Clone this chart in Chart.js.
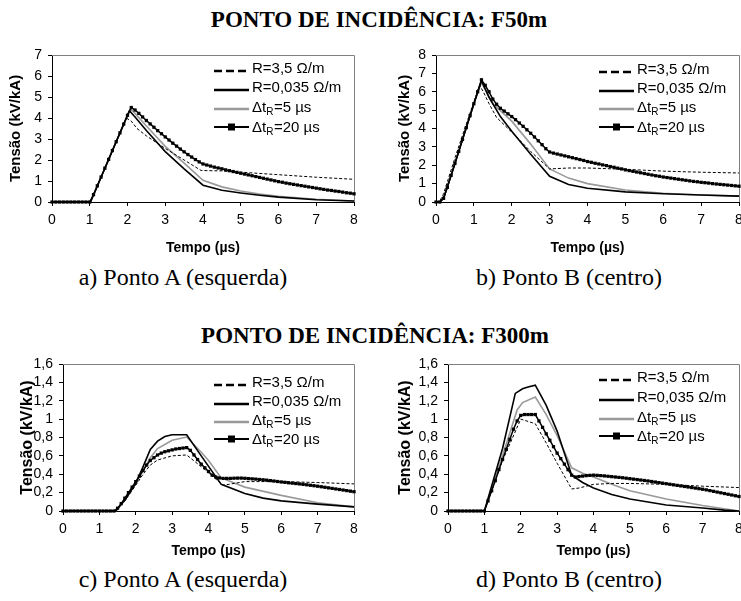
<!DOCTYPE html>
<html>
<head>
<meta charset="utf-8">
<script src="https://cdn.jsdelivr.net/npm/chart.js@4"></script>
<style>
  html, body { margin: 0; padding: 0; background: #fff; }
  body { width: 741px; height: 601px; position: relative; overflow: hidden; }
  canvas { position: absolute; }
  .t { position: absolute; font-family: "Liberation Serif", "Times New Roman", serif; line-height: 1;
       white-space: nowrap; color: #000; transform: translateX(-50%); }
  .h { font-weight: bold; font-size: 23px; }
  .c { font-size: 24px; }
</style>
</head>
<body>
<div class="t h" style="left:379px; top:8px;">PONTO DE INCIDÊNCIA: F50m</div>
<div class="t c" style="left:183px; top:265px;">a) Ponto A (esquerda)</div>
<div class="t c" style="left:569px; top:265px;">b) Ponto B (centro)</div>
<div class="t h" style="left:375px; top:324px;">PONTO DE INCIDÊNCIA: F300m</div>
<div class="t c" style="left:183px; top:567px;">c) Ponto A (esquerda)</div>
<div class="t c" style="left:569px; top:567px;">d) Ponto B (centro)</div>

<canvas id="pa" width="370" height="225" style="left:0px; top:40px;"></canvas>
<canvas id="pb" width="390" height="225" style="left:370px; top:40px;"></canvas>
<canvas id="pc" width="370" height="225" style="left:0px; top:349px;"></canvas>
<canvas id="pd" width="390" height="225" style="left:370px; top:349px;"></canvas>

<script>
// ---- series names (legend text, subscript in the middle part) ----
const seriesLabels = [
  ['R=3,5 Ω/m'],
  ['R=0,035 Ω/m'],
  ['Δt', 'R', '=5 µs'],
  ['Δt', 'R', '=20 µs']
];
const xTitle = 'Tempo (µs)';
const yTitle = 'Tensão (kV/kA)';
const xTickLabels = ['0', '1', '2', '3', '4', '5', '6', '7', '8'];
const yTickLabelsA = ['0', '1', '2', '3', '4', '5', '6', '7'];
const yTickLabelsB = ['0', '1', '2', '3', '4', '5', '6', '7', '8'];
const yTickLabelsCD = ['0', '0,2', '0,4', '0,6', '0,8', '1', '1,2', '1,4', '1,6'];

// time base of the ΔtR=20 µs curves (µs)
const tempo20 = [0,0.1,0.2,0.3,0.4,0.5,0.6,0.7,0.8,0.9,1,1.1,1.2,1.3,1.4,1.5,1.6,1.7,1.8,1.9,
  2,2.1,2.2,2.3,2.4,2.5,2.6,2.7,2.8,2.9,3,3.1,3.2,3.3,3.4,3.5,3.6,3.7,3.8,3.9,
  4,4.1,4.2,4.3,4.4,4.5,4.6,4.7,4.8,4.9,5,5.1,5.2,5.3,5.4,5.5,5.6,5.7,5.8,5.9,
  6,6.1,6.2,6.3,6.4,6.5,6.6,6.7,6.8,6.9,7,7.1,7.2,7.3,7.4,7.5,7.6,7.7,7.8,7.9,8];

// ---- a) F50m, Ponto A ----
const aTempoR35 = [0,1.02,1.97,2.1,2.25,2.5,3,3.5,3.95,4.5,5,6,7,8];
const aTensaoR35 = [0,0,4.0,3.85,3.5,3.15,2.55,2.0,1.5,1.48,1.42,1.3,1.18,1.08];
const aTempoR0035 = [0,1.02,2,2.05,2.2,2.5,3,3.5,4,4.5,5,5.5,6,7,8];
const aTensaoR0035 = [0,0,4.13,4.35,4.05,3.4,2.4,1.58,0.8,0.56,0.43,0.32,0.23,0.11,0.05];
const aTempo5 = [0,1.02,2,2.08,2.2,2.5,3,3.5,4,4.5,5,5.5,6,7,8];
const aTensao5 = [0,0,4.13,4.42,4.22,3.62,2.65,1.85,1.03,0.72,0.52,0.38,0.27,0.13,0.05];
const aTensao20 = [0,0,0,0,0,0,0,0,0,0,0,
  0.35,0.77,1.19,1.61,2.03,2.45,2.87,3.29,3.71,4.13,4.5,
  4.38,4.22,4.05,3.88,3.72,3.56,3.4,3.25,3.1,2.95,2.8,2.66,2.52,2.39,2.26,2.14,2.02,1.91,1.81,
  1.76,1.71,1.66,1.62,1.58,1.53,1.49,1.45,1.41,1.37,
  1.33,1.29,1.25,1.21,1.17,1.13,1.09,1.05,1.01,0.97,
  0.94,0.9,0.87,0.84,0.81,0.78,0.75,0.72,0.69,0.66,
  0.63,0.6,0.57,0.55,0.52,0.5,0.47,0.44,0.42,0.39];

// ---- b) F50m, Ponto B ----
const bTempoR35 = [0,0.1,0.2,0.5,0.8,1.0,1.15,1.25,1.4,1.6,1.9,2.1,2.5,3.0,3.5,4.0,5.0,6.0,7.0,8.0];
const bTensaoR35 = [0,0.05,0.45,2.4,4.25,5.45,6.35,6.0,5.35,4.6,4.0,3.6,2.75,1.8,1.85,1.85,1.78,1.68,1.62,1.58];
const bTempoR0035 = [0,0.1,0.2,0.5,0.8,1.0,1.2,1.4,1.7,2.0,2.5,3.0,3.5,4.0,5.0,6.0,7.0,8.0];
const bTensaoR0035 = [0,0,0.2,2.1,4.05,5.35,6.6,5.7,4.65,3.85,2.6,1.4,0.95,0.75,0.55,0.45,0.38,0.32];
const bTempo5 = [0,0.1,0.2,0.5,0.8,1.0,1.2,1.5,2.0,2.5,3.0,3.5,4.0,5.0,6.0,7.0,8.0];
const bTensao5 = [0,0,0.2,2.1,4.05,5.35,6.5,5.35,4.4,3.15,1.8,1.3,1.0,0.65,0.48,0.38,0.32];
const bTensao20 = [0,0,0.2,0.8,1.45,2.1,2.75,3.4,4.05,4.7,5.35,6.0,6.65,
  6.35,6.0,5.6,5.32,5.1,4.95,4.8,4.65,4.48,4.3,4.12,3.93,3.74,3.54,3.33,3.12,2.9,2.72,
  2.66,2.61,2.56,2.51,2.46,2.41,2.36,2.31,2.26,2.2,
  2.16,2.11,2.07,2.02,1.98,1.93,1.89,1.84,1.8,1.75,
  1.71,1.67,1.63,1.59,1.55,1.51,1.47,1.43,1.4,1.36,
  1.33,1.3,1.27,1.24,1.21,1.18,1.15,1.12,1.1,1.07,
  1.05,1.03,1.0,0.98,0.96,0.94,0.92,0.9,0.88,0.86];

// ---- c) F300m, Ponto A ----
const cTempoR35 = [0,1.45,1.7,2.0,2.2,2.4,2.6,3.0,3.4,3.9,4.4,4.7,5.0,6.0,7.0,8.0];
const cTensaoR35 = [0,0,0.11,0.28,0.4,0.5,0.555,0.6,0.61,0.45,0.28,0.3,0.32,0.32,0.31,0.295];
const cTempoR0035 = [0,1.45,1.7,2.0,2.2,2.4,2.6,2.8,3.0,3.4,3.8,4.35,5.0,5.5,6.0,7.0,8.0];
const cTensaoR0035 = [0,0,0.12,0.3,0.48,0.67,0.76,0.81,0.83,0.83,0.6,0.29,0.19,0.14,0.11,0.075,0.045];
const cTempo5 = [0,1.45,1.7,2.0,2.2,2.4,2.6,3.0,3.4,3.8,4.0,4.35,5.0,6.0,7.0,8.0];
const cTensao5 = [0,0,0.12,0.3,0.44,0.58,0.68,0.77,0.805,0.64,0.55,0.36,0.26,0.17,0.09,0.045];
const cTensao20 = [0,0,0,0,0,0,0,0,0,0,0,0,0,0,0,
  0.03,0.08,0.14,0.2,0.26,0.32,0.38,0.44,0.5,0.55,0.58,0.61,0.63,0.645,0.655,0.665,0.675,0.68,0.685,0.69,
  0.66,0.61,0.56,0.51,0.47,0.43,0.39,0.37,0.36,0.355,
  0.355,0.355,0.357,0.358,0.358,0.356,
  0.353,0.35,0.347,0.343,0.34,0.336,0.331,0.326,0.321,0.316,
  0.312,0.307,0.303,0.299,0.295,0.29,0.285,0.28,0.275,0.27,
  0.264,0.258,0.252,0.246,0.24,0.234,0.228,0.222,0.216,0.21];

// ---- d) F300m, Ponto B ----
const dTempoR35 = [0,1.0,1.5,2.0,2.4,2.7,3.0,3.4,3.6,4.0,4.5,5.0,6.0,7.0,8.0];
const dTensaoR35 = [0,0,0.55,1.0,0.95,0.74,0.52,0.24,0.25,0.29,0.3,0.3,0.29,0.27,0.255];
const dTempoR0035 = [0,1.0,1.5,1.85,2.05,2.2,2.4,2.7,3.0,3.4,3.7,4.0,4.5,5.0,6.0,7.0,7.6,8.0];
const dTensaoR0035 = [0,0,0.68,1.28,1.33,1.35,1.37,1.15,0.87,0.39,0.31,0.25,0.18,0.13,0.066,0.033,0.01,0];
const dTempo5 = [0,1.0,1.5,1.9,2.05,2.4,2.7,3.0,3.4,3.7,4.0,4.5,5.0,6.0,7.0,8.0];
const dTensao5 = [0,0,0.6,1.1,1.18,1.24,1.05,0.82,0.47,0.41,0.37,0.29,0.22,0.13,0.06,0.0];
const dTensao20 = [0,0,0,0,0,0,0,0,0,0,0,
  0.11,0.22,0.33,0.45,0.56,0.67,0.78,0.89,0.98,1.04,1.05,1.05,1.05,1.05,
  0.98,0.91,0.84,0.77,0.7,0.63,0.57,0.51,0.45,0.39,
  0.37,0.375,0.38,0.385,0.388,0.39,
  0.388,0.385,0.382,0.378,0.374,0.37,0.366,0.362,0.357,0.352,
  0.347,0.342,0.337,0.332,0.327,0.321,0.315,0.309,0.303,0.297,
  0.291,0.285,0.279,0.273,0.267,0.261,0.255,0.249,0.243,0.237,
  0.23,0.222,0.214,0.206,0.198,0.19,0.182,0.174,0.166,0.158];

const SANS = '"Liberation Sans", Arial, sans-serif';
const GRAY = '#999999';

function pts(t, v) { return t.map((x, i) => ({ x: x, y: v[i] })); }

// legend sample styles, in the order of seriesLabels
const legendStyles = [
  { color: '#000', width: 2.6, dash: [8, 4], dy: 4 },
  { color: '#000', width: 2.6, dash: [], dy: 4 },
  { color: GRAY, width: 2.4, dash: [], dy: 3 },
  { color: '#000', width: 2, dash: [], dy: 1, marker: true }
];

// thin grey frame on the top and right of the plot area
const framePlugin = {
  id: 'plotframe',
  beforeDatasetsDraw(chart) {
    const { ctx, chartArea: a } = chart;
    ctx.save();
    ctx.strokeStyle = '#808080';
    ctx.lineWidth = 1;
    ctx.beginPath();
    ctx.moveTo(Math.round(a.left), Math.round(a.top) + 0.5);
    ctx.lineTo(Math.round(a.right) + 0.5, Math.round(a.top) + 0.5);
    ctx.lineTo(Math.round(a.right) + 0.5, Math.round(a.bottom));
    ctx.stroke();
    ctx.restore();
  }
};

// legend inside the upper right of the plot area
const legendPlugin = {
  id: 'serieslegend',
  afterDatasetsDraw(chart, args, opts) {
    const { ctx, chartArea: a } = chart;
    const x0 = a.right - 140, x1 = a.right - 105, tx = a.right - 102;
    ctx.save();
    seriesLabels.forEach((parts, i) => {
      const y = a.top + opts.rows[i];
      const st = legendStyles[i];
      ctx.beginPath();
      ctx.setLineDash(st.dash);
      ctx.lineWidth = st.width;
      ctx.strokeStyle = st.color;
      ctx.moveTo(x0, y + st.dy);
      ctx.lineTo(x1, y + st.dy);
      ctx.stroke();
      ctx.setLineDash([]);
      if (st.marker) {
        ctx.fillStyle = '#000';
        ctx.fillRect((x0 + x1) / 2 - 3.5, y + st.dy - 3.5, 7, 7);
      }
      let x = tx;
      const base = y + 5.5;
      ctx.fillStyle = '#000';
      ctx.textBaseline = 'alphabetic';
      ctx.textAlign = 'left';
      parts.forEach((part, j) => {
        const sub = parts.length === 3 && j === 1;
        ctx.font = (sub ? 10 : 15) + 'px ' + SANS;
        ctx.fillText(part, x, base + (sub ? 3 : 0));
        x += ctx.measureText(part).width + (sub ? 0.5 : 0);
      });
    });
    ctx.restore();
  }
};

function build(id, p) {
  const datasets = [
    { data: pts(p.tR35, p.vR35), borderColor: '#000', borderWidth: 1, borderDash: [3, 2],
      pointRadius: 0, order: 2 },
    { data: pts(p.tR0035, p.vR0035), borderColor: '#000', borderWidth: 1.6, pointRadius: 0, order: 1 },
    { data: pts(p.t5, p.v5), borderColor: GRAY, borderWidth: 1.6, pointRadius: 0, order: 3 },
    { data: pts(tempo20, p.v20), borderColor: '#000', borderWidth: 1.5, pointStyle: 'rect',
      pointRadius: 2.3, pointBackgroundColor: '#000', pointBorderWidth: 0, order: 0 }
  ];
  datasets.forEach((d, i) => { d.label = seriesLabels[i].join(''); d.clip = 6; d.tension = 0; });

  return new Chart(document.getElementById(id), {
    type: 'line',
    data: { datasets: datasets },
    options: {
      responsive: false,
      animation: false,
      devicePixelRatio: 1,
      events: [],
      layout: { padding: { top: 15, right: p.padRight, left: 0, bottom: 0 } },
      plugins: {
        legend: { display: false },
        tooltip: { enabled: false },
        serieslegend: { rows: p.rows }
      },
      scales: {
        x: {
          type: 'linear', min: 0, max: 8,
          ticks: { stepSize: 1, autoSkip: false, color: '#000', font: { family: SANS, size: 14 },
                   padding: 6, maxRotation: 0, callback: (v, i) => xTickLabels[i] },
          grid: { display: true, drawOnChartArea: false, drawTicks: true, tickLength: 4, color: '#000' },
          border: { display: true, color: '#000', width: 1 },
          title: { display: true, text: xTitle, color: '#000',
                   font: { family: SANS, size: 14, weight: 'bold' },
                   padding: { top: 0, bottom: p.xTitlePad } },
          afterFit: s => { s.height = 63; }
        },
        y: {
          type: 'linear', min: 0, max: p.yMax,
          ticks: { stepSize: p.yStep, autoSkip: false, color: '#000', font: { family: SANS, size: 14 },
                   padding: 6, callback: (v, i) => p.yLabels[i] },
          grid: { display: true, drawOnChartArea: false, drawTicks: true, tickLength: 4, color: '#000' },
          border: { display: true, color: '#000', width: 1 },
          title: { display: true, text: yTitle, color: '#000',
                   font: { family: SANS, size: p.yTitleSize, weight: 'bold' },
                   padding: { top: p.yTitlePad, bottom: 0 } },
          afterFit: s => { s.width = p.yWidth; }
        }
      }
    },
    plugins: [framePlugin, legendPlugin]
  });
}

build('pa', {
  tR35: aTempoR35, vR35: aTensaoR35, tR0035: aTempoR0035, vR0035: aTensaoR0035,
  t5: aTempo5, v5: aTensao5, v20: aTensao20,
  yMax: 7, yStep: 1, yLabels: yTickLabelsA, yWidth: 52, padRight: 16,
  yTitleSize: 15, yTitlePad: 7, xTitlePad: 8, rows: [12, 31, 51, 71]
});
build('pb', {
  tR35: bTempoR35, vR35: bTensaoR35, tR0035: bTempoR0035, vR0035: bTensaoR0035,
  t5: bTempo5, v5: bTensao5, v20: bTensao20,
  yMax: 8, yStep: 1, yLabels: yTickLabelsB, yWidth: 66, padRight: 21,
  yTitleSize: 15, yTitlePad: 26, xTitlePad: 8, rows: [13, 32, 51, 71]
});
build('pc', {
  tR35: cTempoR35, vR35: cTensaoR35, tR0035: cTempoR0035, vR0035: cTensaoR0035,
  t5: cTempo5, v5: cTensao5, v20: cTensao20,
  yMax: 1.6, yStep: 0.2, yLabels: yTickLabelsCD, yWidth: 63, padRight: 16,
  yTitleSize: 16, yTitlePad: 18, xTitlePad: 14, rows: [17, 36, 55, 74]
});
build('pd', {
  tR35: dTempoR35, vR35: dTensaoR35, tR0035: dTempoR0035, vR0035: dTensaoR0035,
  t5: dTempo5, v5: dTensao5, v20: dTensao20,
  yMax: 1.6, yStep: 0.2, yLabels: yTickLabelsCD, yWidth: 78, padRight: 21,
  yTitleSize: 16, yTitlePad: 26, xTitlePad: 14, rows: [12, 32, 52, 71]
});
</script>
</body>
</html>
